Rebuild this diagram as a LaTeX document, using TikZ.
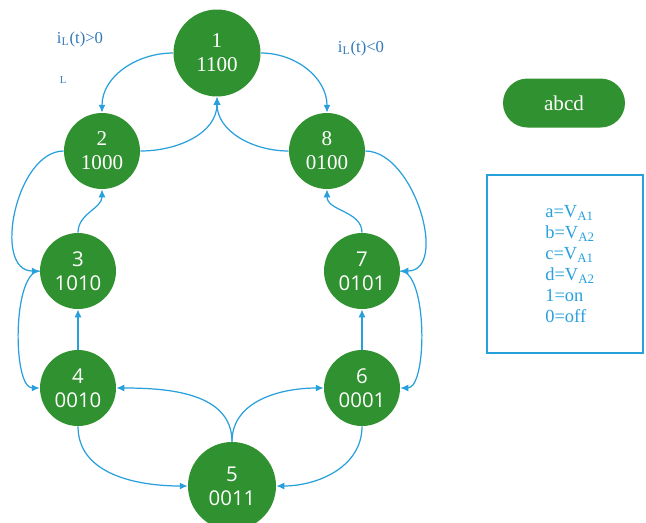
\documentclass[tikz,border=0pt]{standalone}
\usepackage{fontspec}
\setmainfont{Liberation Serif}
\newfontfamily\statefont{Open Sans}
\usetikzlibrary{arrows.meta}
\definecolor{stategreen}{RGB}{48,145,48}
\definecolor{edgeblue}{RGB}{40,160,220}
\definecolor{labelblue}{RGB}{50,120,185}
\tikzstyle{state}=[circle, fill=stategreen, text=white, inner sep=0, minimum size=1.52cm, align=center, font=\fontsize{12}{13.6}\selectfont]
\tikzstyle{sans state}=[state, font=\statefont\fontsize{11.6}{13.6}\selectfont]
\tikzstyle{big state}=[state, minimum size=1.74cm]
\tikzstyle{transition}=[draw=edgeblue, line width=0.7pt, -{Latex[length=4.5pt,width=4pt]}]
\tikzstyle{current label}=[text=labelblue, font=\fontsize{9.5}{11}\selectfont]

\begin{document}
\begin{tikzpicture}[x=0.02cm, y=-0.02cm]
      \useasboundingbox (0, 0) rectangle (646, 522);

      \node[big state] (s1) at (217, 53) {1\\1100};
      \node[state] (s2) at (102, 151) {2\\1000};
      \node[state] (s8) at (327, 151) {8\\0100};
      \node[sans state] (s3) at (78, 271) {3\\1010};
      \node[sans state] (s7) at (362, 271) {7\\0101};
      \node[sans state] (s4) at (78, 388) {4\\0010};
      \node[sans state] (s6) at (362, 388) {6\\0001};
      \node[sans state, minimum size=1.76cm] (s5) at (232, 486) {5\\0011};

      \node[current label] (pos_label) at (80, 39) {i\textsubscript{L}(t)>0};
      \node[current label, font=\fontsize{6}{7}\selectfont] (l_label) at (63, 80) {L};
      \node[current label] (neg_label) at (361, 48) {i\textsubscript{L}(t)<0};

      \draw[transition] (s1.west) to[out=180, in=90] (s2.north);
      \draw[transition] (s1.east) to[out=0, in=90] (s8.north);
      \draw[transition] (s2.east) to[out=0, in=-90] (s1.south);
      \draw[transition] (s8.west) to[out=180, in=-90] (s1.south);

      \draw[transition] (s2.west) to[out=180, in=180] (s3.west);
      \draw[transition] (s3.north) to[out=90, in=-90] (s2.south);
      \draw[transition] (s3.west) to[out=180, in=180, looseness=0.6] (s4.west);
      \draw[transition] (s4.north) -- (s3.south);

      \draw[transition] (s8.east) to[out=0, in=0] (s7.east);
      \draw[transition] (s7.north) to[out=90, in=-90] (s8.south);
      \draw[transition] (s7.east) to[out=0, in=0, looseness=0.6] (s6.east);
      \draw[transition] (s6.north) -- (s7.south);

      \draw[transition] (s4.south) to[out=-90, in=180] (s5.west);
      \draw[transition] (s5.north) to[out=90, in=0] (s4.east);
      \draw[transition] (s5.north) to[out=90, in=180] (s6.west);
      \draw[transition] (s6.south) to[out=-90, in=0] (s5.east);

      \node[fill=stategreen, text=white, rounded corners=0.49cm, minimum width=2.44cm, minimum height=0.98cm, font=\fontsize{12}{14}\selectfont] (key) at (564, 103) {abcd};

      \draw[edgeblue, line width=0.7pt] (487, 175) rectangle (643, 353);
      \node[text=edgeblue, align=left, anchor=west, inner sep=0, font=\fontsize{10.5}{11.9}\selectfont] (legend) at (545, 264)
        {a=V\textsubscript{A1}\\b=V\textsubscript{A2}\\c=V\textsubscript{A1}\\d=V\textsubscript{A2}\\1=on\\0=off};
    \end{tikzpicture}
\end{document}
